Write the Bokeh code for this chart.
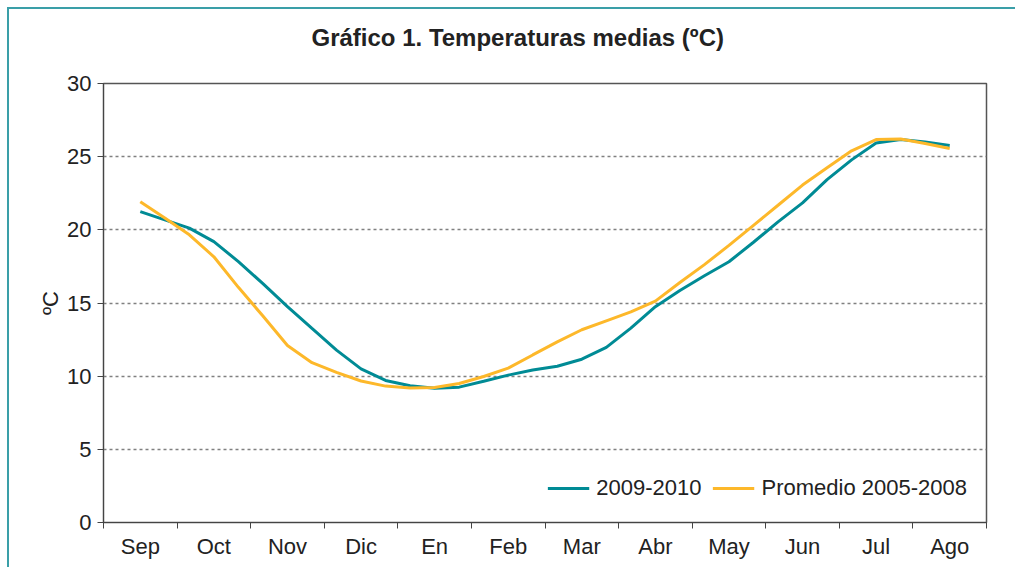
from bokeh.plotting import figure
from bokeh.models import FixedTicker, Title
from bokeh.embed import file_html
from bokeh.resources import INLINE

# Month labels (centers at 0.5 .. 11.5 in month units)
months = ["Sep", "Oct", "Nov", "Dic", "En", "Feb", "Mar", "Abr", "May", "Jun", "Jul", "Ago"]

# Time position in months (from Sep 1st), every third of a month
mes = [0.5 + k / 3 for k in range(34)]

serie_2009_2010 = [21.24, 20.68, 20.12, 19.19, 17.83, 16.32, 14.75, 13.26, 11.78, 10.50,
                   9.71, 9.35, 9.17, 9.25, 9.65, 10.07, 10.42, 10.68, 11.16, 11.97,
                   13.28, 14.75, 15.85, 16.86, 17.82, 19.15, 20.54, 21.84, 23.43, 24.78,
                   25.93, 26.17, 26.00, 25.77]

serie_promedio = [21.92, 20.81, 19.66, 18.16, 16.07, 14.11, 12.10, 10.92, 10.26, 9.67,
                  9.32, 9.19, 9.22, 9.50, 9.98, 10.55, 11.45, 12.34, 13.17, 13.78,
                  14.39, 15.13, 16.40, 17.62, 18.94, 20.31, 21.68, 23.06, 24.24, 25.40,
                  26.17, 26.21, 25.90, 25.56]

y_ticks = [0, 5, 10, 15, 20, 25, 30]
grid_ticks = [5, 10, 15, 20, 25]

title_text = "Gráfico 1. Temperaturas medias (ºC)"

FONT = "Liberation Sans"

p = figure(width=1008, height=560, x_range=(0, 12), y_range=(0, 30),
           output_backend="svg", toolbar_location=None,
           min_border_left=94, min_border_right=31, min_border_top=74, min_border_bottom=47)
p.styles = {"margin-left": "7px", "margin-top": "7px",
            "border-top": "2px solid #3a9fa8", "border-left": "2px solid #3a9fa8"}

p.title.text = ""

# spacer panel between frame and title (pushes the title upwards)
spacer = Title(text=" ", text_font=FONT, text_font_size="10px", standoff=18)
p.add_layout(spacer, "above")

main_title = Title(text=title_text, align="left", vertical_align="top", offset=208,
                   standoff=0, text_font=FONT, text_font_size="24px",
                   text_font_style="bold", text_color="#222222")
p.add_layout(main_title, "above")

p.outline_line_color = "#555555"
p.outline_line_width = 1.5

p.line(mes, serie_2009_2010, color="#008B95", line_width=3, legend_label="2009-2010")
p.line(mes, serie_promedio, color="#FDB82A", line_width=3, legend_label="Promedio 2005-2008")

# X axis: labels at month centres, tick marks at month boundaries
xa = p.xaxis[0]
xa.ticker = FixedTicker(ticks=[i + 0.5 for i in range(12)], minor_ticks=list(range(13)))
xa.major_label_overrides = {i + 0.5: m for i, m in enumerate(months)}
xa.major_tick_line_color = None
xa.minor_tick_line_color = "#444444"
xa.minor_tick_in = 0
xa.minor_tick_out = 6
xa.axis_line_color = "#444444"
xa.major_label_text_font = FONT
xa.major_label_text_font_size = "22px"
xa.major_label_text_color = "#222222"
xa.major_label_standoff = 5

ya = p.yaxis[0]
ya.ticker = FixedTicker(ticks=y_ticks, minor_ticks=[])
ya.major_tick_in = 0
ya.major_tick_out = 6
ya.major_tick_line_color = "#444444"
ya.minor_tick_line_color = None
ya.axis_line_color = "#444444"
ya.major_label_text_font = FONT
ya.major_label_text_font_size = "22px"
ya.major_label_text_color = "#222222"
ya.major_label_standoff = 6
ya.axis_label = "ºC"
ya.axis_label_text_font = FONT
ya.axis_label_text_font_size = "22px"
ya.axis_label_text_font_style = "normal"
ya.axis_label_text_color = "#222222"
ya.axis_label_standoff = 1

p.xgrid.grid_line_color = None
p.ygrid.ticker = FixedTicker(ticks=grid_ticks)
p.ygrid.grid_line_color = "#808080"
p.ygrid.grid_line_dash = "3 3"
p.ygrid.grid_line_width = 1.3

p.legend.location = "bottom_right"
p.legend.orientation = "horizontal"
p.legend.border_line_color = None
p.legend.background_fill_alpha = 0
p.legend.label_text_font = FONT
p.legend.label_text_font_size = "22px"
p.legend.label_text_color = "#222222"
p.legend.label_height = 31
p.legend.glyph_width = 42
p.legend.spacing = 11
p.legend.margin = 19
p.legend.label_standoff = 7

open("out.html", "w").write(file_html(p, INLINE))
